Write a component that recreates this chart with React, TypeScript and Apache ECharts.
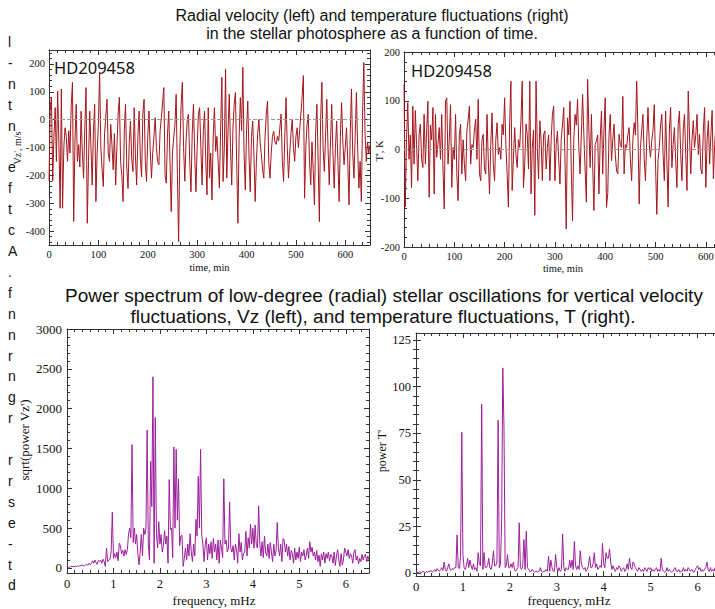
import React, { useEffect, useRef } from 'react';
import * as echarts from 'echarts';

// ---------------- data ----------------
const TIME_STEP_MIN = 2.5;
const FREQ_STEP_MHZ = 0.025;

// Radial velocity fluctuations Vz' (m/s), one value every 2.5 min from 0 to 650 min
const VZ = [
  -220, 40, 80, -221, -60, 43, -150, 103, -80, -318,
  110, -318, -100, -29, -60, -150, -40, -120, 50, 134,
  -366, -80, 55, -150, -90, -170, 30, -120, -210, -30,
  115, -372, -150, 30, -100, -235, -40, 55, -294, -120,
  -17, 170, -100, -180, -240, -50, 10, 73, -120, -150,
  -17, -90, -180, -50, -235, -100, 20, 80, -150, -200,
  -294, -40, 55, -170, -247, -80, -5, -140, -186, 43,
  -130, -235, -60, 31, -140, -205, 20, 73, -150, -222,
  -60, 31, -110, -210, -120, -60, 7, -100, -150, -162,
  -40, 7, 60, 115, -200, -228, -50, 31, -150, -330,
  -120, -65, -20, 91, -200, -438, -100, 50, 134, -100,
  -221, -80, 0, 20, -150, -259, -50, 55, -120, -259,
  -100, 20, 43, -100, -235, -40, 31, -150, -270, 43,
  -210, -120, -288, -60, 43, -114, -60, -150, -246, -40,
  152, -222, -100, 182, -210, -40, 91, -100, -235, -30,
  55, 97, -150, -372, -60, 79, -40, 188, -120, -253,
  -40, 67, -130, -259, -60, -5, -130, -294, -150, -50,
  1, -80, -126, -180, -210, -60, 20, 67, -150, -210,
  -120, -60, -41, -80, -89, -60, -77, -30, 20, -150,
  -222, -60, 79, -100, -210, -120, -50, 1, -100, -150,
  -60, -29, -100, -40, 20, 80, 158, -282, -100, -20,
  19, -150, -234, -80, -180, -306, -40, 55, -150, -366,
  0, 134, -100, -186, -60, 73, -100, -234, -80, 55,
  -120, -246, -100, -5, -150, -294, -60, 61, -80, -162,
  -100, -29, -150, -306, -50, 110, -120, -210, -60, 97,
  -100, -246, -150, -294, 20, 205, -50, -150, -80, -120,
  -90,
];

// Temperature fluctuations T' (K), one value every 2.5 min from 0 to 650 min
const TEMP = [
  133, -118, 20, 96, -20, 30, -78, 89, -30, 80,
  10, -64, 31, 52, -20, -37, 72, -30, 40, 99,
  -98, 50, 20, 86, -91, 72, -16, 10, 45, -20,
  72, -40, -122, 99, 106, -30, 20, 92, -78, 4,
  -20, 72, -50, -105, 30, 52, -50, 20, -30, -64,
  38, 60, 89, -30, 10, 4, 40, 62, -20, 103,
  -50, -64, 20, 31, -40, -50, 72, -20, -91, 10,
  75, -30, -64, 20, 55, -10, 4, -20, 52, 30,
  106, 11, -50, -118, 55, 140, -84, -20, 45, -10,
  -37, 20, 4, 60, 140, -78, -30, 52, 30, -40,
  140, -91, 4, 40, -135, 140, 4, -60, 59, 20,
  -64, 30, 38, -40, 4, 30, -64, 20, 72, 89,
  -64, 10, 38, -20, -71, 20, 50, 86, -20, -163,
  65, 30, 99, -40, -146, 20, 72, 50, 103, 4,
  -50, 30, 113, 31, -40, -108, 144, 40, -37, 72,
  -30, -125, 10, 18, 30, -91, 20, 79, -50, 40,
  106, -119, -91, 30, 72, -23, 20, 52, -10, -44,
  -50, 31, 10, 4, 109, -50, 10, 4, 30, 45,
  -20, -64, 20, 55, 30, 140, 38, -112, 4, 40,
  72, -20, -64, 20, 86, 10, -16, 18, 40, 92,
  -30, -133, -20, 4, 50, 72, -10, -64, 79, -20,
  -118, 40, 86, -37, 10, 45, -20, -78, 50, 79,
  -10, -64, 40, 72, -10, -84, 120, 30, -50, 20,
  59, 4, 30, 72, -10, 31, -40, -50, 40, 86,
  -78, 20, 59, -30, 30, 80, -60, 10, 50, -40,
  30, 70, -50, 20, 60, -30, 10, 40, -60, 30,
  -20,
];

// sqrt(power Vz'), one value every 0.025 mHz from 0 to 6.5 mHz
const SPEC_VZ = [
  10, 12, 8, 15, 20, 18, 15, 22, 18, 25,
  20, 30, 28, 35, 30, 25, 40, 45, 35, 60,
  40, 55, 90, 60, 100, 70, 45, 95, 80, 100,
  60, 110, 80, 20, 250, 80, 100, 110, 200, 700,
  120, 180, 130, 200, 90, 310, 280, 180, 220, 150,
  230, 170, 230, 430, 500, 380, 1550, 320, 500, 300,
  420, 180, 40, 200, 420, 150, 500, 420, 500, 1730,
  300, 100, 1340, 770, 2400, 60, 1890, 430, 250, 580,
  300, 420, 200, 280, 470, 300, 400, 60, 1110, 480,
  500, 130, 1520, 500, 1490, 600, 1120, 280, 400, 410,
  20, 120, 250, 100, 300, 150, 430, 200, 80, 300,
  150, 610, 400, 1150, 500, 1490, 420, 300, 80, 300,
  380, 100, 300, 180, 330, 120, 370, 200, 300, 100,
  350, 60, 350, 250, 130, 1120, 300, 350, 200, 250,
  830, 250, 200, 280, 100, 300, 230, 60, 430, 200,
  320, 100, 180, 200, 460, 150, 380, 250, 550, 300,
  500, 250, 540, 280, 250, 780, 300, 150, 330, 130,
  400, 200, 150, 300, 120, 320, 200, 80, 300, 150,
  220, 570, 250, 150, 300, 80, 370, 350, 200, 300,
  150, 270, 100, 220, 180, 60, 250, 100, 200, 120,
  260, 80, 200, 150, 230, 100, 160, 250, 120, 330,
  200, 260, 150, 200, 100, 220, 80, 160, 20, 180,
  100, 200, 60, 180, 120, 200, 90, 170, 150, 60,
  200, 30, 150, 230, 100, 20, 180, 40, 100, 250,
  200, 150, 230, 120, 180, 150, 60, 200, 230, 100,
  150, 50, 120, 80, 170, 100, 150, 170, 80, 150,
  100,
];

// power T', one value every 0.025 mHz from 0 to 6.5 mHz
const SPEC_T = [
  0, 0.5, 0.3, 0.8, 0.2, 0.5, 1, 0.6, 0.3, 0.8,
  0.5, 1.2, 0.8, 1.5, 0.6, 1.2, 2, 1, 2.5, 1.5,
  1, 2, 3, 1.5, 6, 2, 1, 3, 5, 2,
  1.5, 2.5, 2, 3, 3, 20.5, 3, 2.5, 9, 75.5,
  10, 3, 2, 4, 8, 3, 7, 4, 2, 5,
  2, 3, 1, 11, 5, 4, 90.5, 2, 11, 3,
  3, 4, 8, 3, 2, 5, 12, 4, 4, 6,
  82, 3, 5, 27, 110, 78, 3, 4, 10, 3,
  3, 5, 3, 6, 2, 1, 2, 3, 27, 3,
  2, 4, 18, 2, 22.5, 3, 2, 1, 1, 2,
  1, 0.5, 1, 1, 0.5, 1, 3, 1, 0.5, 1,
  1, 2, 1, 9, 1, 7, 3, 1, 1, 10,
  3, 1, 3, 1, 2, 21, 3, 1, 3, 2,
  2, 7, 3, 7, 2, 17, 4, 2, 4, 2,
  12, 5, 3, 2, 3, 1, 2, 4, 9, 3,
  3, 5, 11, 3, 5, 2, 3, 4, 3, 16,
  5, 3, 11, 8, 8, 13, 6, 2, 4, 2,
  1, 3, 2, 4, 3, 1, 2, 3, 1, 2,
  5, 2, 8, 3, 2, 6, 5, 3, 2, 1,
  3, 2, 1, 2, 1, 3, 2, 1, 3, 2,
  3, 1, 2, 1, 2, 3, 1, 2, 1, 8,
  2, 1, 0.5, 1, 3, 1, 2, 1, 0.5, 1,
  2, 3, 1, 1, 2, 0.5, 1, 1, 3, 1,
  2, 1, 3, 2, 1, 2, 1, 0.5, 2, 3,
  4, 2, 3, 1, 2, 1, 2, 3, 6, 2,
  1, 3, 1, 2, 1, 3, 2, 1, 2, 3,
  2,
];

const POWER_T_TICKS = [0, 25, 50, 75, 100, 125];
const POWER_T_MINOR_TICKS = [
  0, 5, 10, 15, 20, 25, 30, 35, 40, 45, 50, 55, 60, 65, 70, 75, 80, 85, 90, 95,
  100, 105, 110, 115, 120, 125,
];

const MARGIN_LETTERS = [
  'l', '-', 'n', 't', 'n', '', 'e', 'f', 't', 'c', 'A', '.', 'f', 'n', 'n',
  'r', 'n', 'g', 'r', '', 'r', 'r', 's', 'e', '-', 't', 'd',
];

// ---------------- styling ----------------
const SERIF = "'Liberation Serif','Times New Roman',serif";
const SANS = "'Liberation Sans',Arial,sans-serif";
const AXIS_COLOR = '#333333';
const TEXT_COLOR = '#111111';
const RED = '#a3161c';
const PURPLE = '#9c1f9c';

const plain = (v: number) => String(Number(v.toFixed(6)));

function toPairs(values: number[], step: number) {
  return values.map((v, i) => [Number((i * step).toFixed(4)), v]);
}

const axisLine = { show: true, onZero: false, lineStyle: { color: AXIS_COLOR, width: 1 } };
const tick = (len: number) => ({ show: true, inside: true, length: len, lineStyle: { color: AXIS_COLOR, width: 1 } });

function xAxes(grid: number, min: number, max: number, interval: number, fontSize: number, margin: number) {
  const base: any = {
    type: 'value', gridIndex: grid, min, max, interval,
    axisLine, axisTick: tick(5),
    minorTick: { show: true, splitNumber: 6, length: 3, lineStyle: { color: AXIS_COLOR } },
    splitLine: { show: false }, minorSplitLine: { show: false },
  };
  return [
    { ...base, position: 'bottom',
      axisLabel: { show: true, fontFamily: SERIF, fontSize, color: TEXT_COLOR, margin, showMaxLabel: false, formatter: plain } },
    { ...base, position: 'top', axisLabel: { show: false } },
  ];
}

function yAxes(grid: number, opts: any, fontSize: number, margin: number, labelOpts: any) {
  const base: any = {
    type: 'value', gridIndex: grid, ...opts,
    axisLine, axisTick: tick(5),
    minorTick: { show: true, splitNumber: 5, length: 3, lineStyle: { color: AXIS_COLOR } },
    splitLine: { show: false }, minorSplitLine: { show: false },
  };
  return [
    { ...base, position: 'left',
      axisLabel: { show: true, fontFamily: SERIF, fontSize, color: TEXT_COLOR, margin, formatter: plain, ...labelOpts } },
    { ...base, position: 'right', axisLabel: { show: false } },
  ];
}

function txt(text: string, x: number, y: number, font: string, opts: any = {}) {
  return {
    type: 'text', x, y, rotation: opts.rotation || 0, silent: true,
    style: {
      text, font, fill: TEXT_COLOR,
      align: opts.align || 'center', verticalAlign: 'middle',
      textAlign: opts.align || 'center', textVerticalAlign: 'middle',
    },
  };
}

const zeroLine = {
  silent: true, symbol: 'none', label: { show: false },
  lineStyle: { type: 'dashed', color: '#9a9a9a', width: 1 },
  data: [{ yAxis: 0 }],
};

export default function App() {
  const ref = useRef<HTMLDivElement>(null);

  useEffect(() => {
    if (!ref.current) return;
    const chart = echarts.init(ref.current, null, { renderer: 'svg' });

    const grids = [
      { left: 49, top: 50, width: 321, height: 195 },
      { left: 404, top: 52, width: 327, height: 195 },
      { left: 67, top: 329, width: 302, height: 244 },
      { left: 416, top: 333, width: 305, height: 243 },
    ].map((g) => ({ ...g, containLabel: false, outerBoundsMode: 'none', show: false }));

    const xAxis = [
      ...xAxes(0, 0, 650, 100, 10.5, 4),
      ...xAxes(1, 0, 650, 100, 10.5, 4),
      ...xAxes(2, 0, 6.5, 1, 12.5, 4),
      ...xAxes(3, 0, 6.5, 1, 12.5, 4),
    ];

    const yAxisList: any[] = [
      ...yAxes(0, { min: -450, max: 250, splitNumber: 5 }, 10.5, 4, { showMinLabel: false, showMaxLabel: false }),
      ...yAxes(1, { min: -200, max: 200, interval: 100 }, 10.5, 4, {}),
      ...yAxes(2, { min: -63, max: 3000, splitNumber: 6 }, 13, 5, { showMinLabel: false }),
    ];
    // power T' axis: labels at multiples of 25, range slightly below 0
    const ptBase: any = {
      type: 'value', gridIndex: 3, min: -1.5, max: 128.7,
      splitLine: { show: false }, minorTick: { show: false },
    };
    yAxisList.push(
      { ...ptBase, position: 'left', axisLine,
        axisTick: { ...tick(5), customValues: POWER_T_TICKS },
        axisLabel: { show: true, fontFamily: SERIF, fontSize: 12.5, color: TEXT_COLOR, margin: 5, customValues: POWER_T_TICKS, formatter: plain } },
      { ...ptBase, position: 'right', axisLine,
        axisTick: { ...tick(5), customValues: POWER_T_TICKS }, axisLabel: { show: false } },
      { ...ptBase, position: 'left', axisLine: { show: false },
        axisTick: { ...tick(3), customValues: POWER_T_MINOR_TICKS }, axisLabel: { show: false } },
      { ...ptBase, position: 'right', axisLine: { show: false },
        axisTick: { ...tick(3), customValues: POWER_T_MINOR_TICKS }, axisLabel: { show: false } },
    );

    const lineBase = { type: 'line', showSymbol: false, symbol: 'none', silent: true, clip: true };

    const graphic: any[] = [
      txt('Radial velocity (left) and temperature fluctuations (right)', 372, 15, `16px ${SANS}`),
      txt('in the stellar photosphere as a function of time.', 372, 33, `16px ${SANS}`),
      txt('Power spectrum of low-degree (radial) stellar oscillations for vertical velocity', 384, 295, `19px ${SANS}`),
      txt('fluctuations, Vz (left), and temperature fluctuations, T (right).', 383, 316, `19px ${SANS}`),
      txt('HD209458', 54, 67, `16.5px 'Noto Sans',sans-serif`, { align: 'left' }),
      txt('HD209458', 411, 70.5, `16.5px 'Noto Sans',sans-serif`, { align: 'left' }),
      txt("Vz', m/s", 17.5, 148, `10px ${SERIF}`, { rotation: Math.PI / 2 }),
      txt("T', K", 379.5, 151, `10.5px ${SERIF}`, { rotation: Math.PI / 2 }),
      txt('time, min', 209.5, 267, `10.5px ${SERIF}`),
      txt('time, min', 563, 268, `10.5px ${SERIF}`),
      txt("sqrt(power Vz')", 24, 440, `13px ${SERIF}`, { rotation: Math.PI / 2 }),
      txt("power T'", 382, 451, `12px ${SERIF}`, { rotation: Math.PI / 2 }),
      txt('frequency, mHz', 214, 600, `13px ${SERIF}`),
      txt('frequency, mHz', 569, 600.5, `13px ${SERIF}`),
      ...MARGIN_LETTERS.map((ch, i) => txt(ch, 8, 42 + 20.9 * i, `14px ${SANS}`, { align: 'left' })),
    ];

    chart.setOption({
      animation: false,
      backgroundColor: '#ffffff',
      grid: grids,
      xAxis,
      yAxis: yAxisList,
      series: [
        { ...lineBase, xAxisIndex: 0, yAxisIndex: 0, data: toPairs(VZ, TIME_STEP_MIN),
          lineStyle: { color: RED, width: 1 }, itemStyle: { color: RED }, markLine: zeroLine },
        { ...lineBase, xAxisIndex: 2, yAxisIndex: 2, data: toPairs(TEMP, TIME_STEP_MIN),
          lineStyle: { color: RED, width: 1 }, itemStyle: { color: RED }, markLine: zeroLine },
        { ...lineBase, xAxisIndex: 4, yAxisIndex: 4, data: toPairs(SPEC_VZ, FREQ_STEP_MHZ),
          lineStyle: { color: PURPLE, width: 1 }, itemStyle: { color: PURPLE } },
        { ...lineBase, xAxisIndex: 6, yAxisIndex: 6, data: toPairs(SPEC_T, FREQ_STEP_MHZ),
          lineStyle: { color: PURPLE, width: 1 }, itemStyle: { color: PURPLE } },
      ],
      graphic,
    });

    return () => chart.dispose();
  }, []);

  return (
    <div
      ref={ref}
      style={{ position: 'fixed', left: 0, top: 0, width: 715, height: 609, background: '#fff' }}
    />
  );
}
